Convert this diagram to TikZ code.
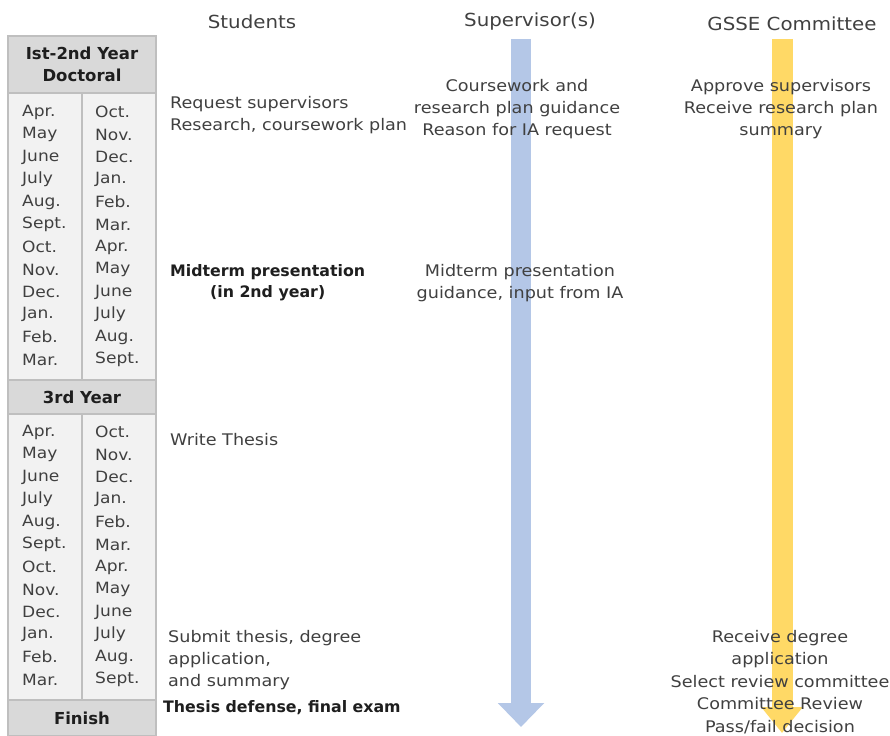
\documentclass[tikz,border=0pt]{standalone}
\usepackage{fontspec}
\setmainfont{DejaVu Sans}[FakeStretch=1.1]
\newfontfamily\strongfont{DejaVu Sans}
\usepackage{tikz}
\usetikzlibrary{arrows.meta,positioning}
\usepackage{xcolor}
\definecolor{HeadGray}{RGB}{217,217,217}
\definecolor{BodyGray}{RGB}{242,242,242}
\definecolor{RuleGray}{RGB}{191,191,191}
\definecolor{SupBlue}{RGB}{180,199,231}
\definecolor{ComGold}{RGB}{255,217,102}
\definecolor{InkGray}{RGB}{64,64,64}
\definecolor{InkDark}{RGB}{30,30,30}
\tikzset{
  headcell/.style={draw=RuleGray, fill=HeadGray, line width=1.2pt,
    minimum width=148pt, inner sep=0pt, align=center, text=InkDark,
    font=\strongfont\fontsize{16.5}{22}\selectfont\bfseries},
  bodycell/.style={draw=RuleGray, fill=BodyGray, line width=1.2pt,
    minimum width=148pt, inner sep=0pt},
  month/.style={anchor=west, inner sep=0pt, text=InkGray,
    font=\fontsize{15.5}{22}\selectfont},
  coltitle/.style={inner sep=0pt, text=InkGray,
    font=\fontsize{18}{20}\selectfont},
  task/.style={inner sep=0pt, text=InkGray, align=center,
    font=\fontsize{16}{22}\selectfont},
  keytask/.style={inner sep=0pt, text=InkDark, align=center,
    font=\strongfont\fontsize{15.8}{21}\selectfont\bfseries},
  flowarrow/.style={line width=20pt, -{Triangle[width=45pt,length=24pt]}}
}

\begin{document}
\begin{tikzpicture}[x=1pt,y=-1pt]
  \useasboundingbox (0,0) rectangle (890,735);
  \node[headcell, minimum height=57pt] (year12) at (82,64.5) {Ist-2nd Year\\Doctoral};
  \node[bodycell, minimum height=287pt] (body12) at (82,236.5) {};
  \node[headcell, minimum height=34pt] (year3) at (82,397) {3rd Year};
  \node[bodycell, minimum height=286pt] (body3) at (82,557) {};
  \node[headcell, minimum height=36pt] (finish) at (82,718) {Finish};
  \draw[RuleGray, line width=1.2pt] (body12.north) -- (body12.south);
  \draw[RuleGray, line width=1.2pt] (body3.north) -- (body3.south);
  \foreach \blk/\top in {a/112,b/432} {
    \foreach \m [count=\i] in {Apr.,May,June,July,Aug.,Sept.,Oct.,Nov.,Dec.,Jan.,Feb.,Mar.}
      \node[month] (\blk l\i) at (22,{\top+22.5*(\i-1)}) {\m};
    \foreach \m [count=\i] in {Oct.,Nov.,Dec.,Jan.,Feb.,Mar.,Apr.,May,June,July,Aug.,Sept.}
      \node[month] (\blk r\i) at (95,{\top+22.5*(\i-1)}) {\m};
  }

  \coordinate (supTop) at (521,39);
  \coordinate (supEnd) at (521,727);
  \coordinate (comTop) at (782,39);
  \coordinate (comEnd) at (782,733);
  \draw[flowarrow, SupBlue] (supTop) -- (supEnd);
  \draw[flowarrow, ComGold, line width=21pt, -{Triangle[width=40pt,length=26pt]}] (comTop) -- (comEnd);

  \node[coltitle] (students) at (252,22) {Students};
  \node[coltitle] (supervisors) at (530,22) {Supervisor(s)};
  \node[coltitle] (committee) at (792,24) {GSSE Committee};

  \node[task, anchor=west, align=left] (request) at (170,115) {Request supervisors\\Research, coursework plan};
  \node[task] (guidance) at (517,109) {Coursework and\\research plan guidance\\Reason for IA request};
  \node[task] (approve) at (781,109) {Approve supervisors\\Receive research plan\\summary};
  \node[keytask, anchor=west] (midterm) at (170,283) {Midterm presentation\\(in 2nd year)};
  \node[task] (midinput) at (520,283) {Midterm presentation\\guidance, input from IA};
  \node[task, anchor=west] (write) at (170,440) {Write Thesis};
  \node[task, anchor=west, align=left] (submit) at (168,660) {Submit thesis, degree\\application,\\and summary};
  \node[keytask, anchor=west] (defense) at (163,708) {Thesis defense, final exam};
  \node[task, font=\fontsize{16}{22.5}\selectfont] (review) at (780,682) {Receive degree\\application\\Select review committee\\Committee Review\\Pass/fail decision};
\end{tikzpicture}
\end{document}
